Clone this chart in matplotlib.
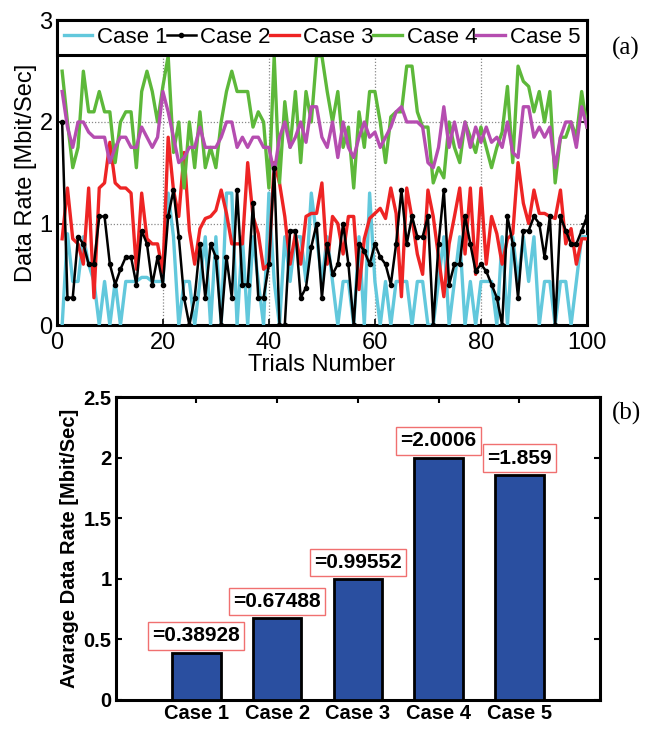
import numpy as np
import matplotlib
matplotlib.use("Agg")
import matplotlib.pyplot as plt

trials = list(range(1, 101))

case1 = [0.0, 0.9, 0.43, 0.43, 0.87, 0.6, 0.43, 0.0, 0.43, 0.0,
         0.43, 0.0, 0.43, 0.43, 0.43, 0.47, 0.47, 0.43, 0.43, 0.43,
         1.3, 0.87, 0.0, 0.43, 0.43, 0.0, 0.43, 0.87, 0.0, 0.87,
         0.0, 1.3, 1.3, 0.0, 0.87, 0.0, 0.87, 0.43, 0.0, 1.3,
         0.43, 0.0, 0.87, 0.43, 0.87, 0.87, 0.43, 1.3, 0.87, 0.43,
         0.87, 0.43, 0.0, 0.43, 0.43, 0.0, 0.87, 0.0, 1.3, 0.43,
         0.0, 0.43, 0.0, 0.43, 0.43, 0.43, 0.0, 0.43, 0.43, 0.0,
         0.0, 0.43, 0.87, 0.0, 0.43, 0.87, 0.0, 0.43, 0.0, 0.43,
         0.43, 0.43, 0.0, 0.87, 0.0, 0.87, 0.43, 0.87, 0.43, 0.87,
         0.0, 0.43, 0.43, 0.0, 0.43, 0.43, 0.0, 0.43, 0.87, 0.87]

case2 = [2.0, 0.27, 0.27, 0.87, 0.8, 0.6, 0.6, 1.07, 1.07, 0.6,
         0.4, 0.55, 0.67, 0.67, 0.4, 0.93, 0.8, 0.4, 0.67, 0.4,
         1.07, 1.33, 0.87, 0.27, 0.0, 0.27, 0.8, 0.27, 0.8, 0.67,
         0.0, 0.67, 0.27, 1.33, 0.4, 0.4, 1.2, 0.27, 0.27, 0.6,
         1.55, 0.0, 0.0, 0.93, 0.93, 0.27, 0.37, 0.77, 1.0, 0.27,
         0.8, 0.5, 0.6, 1.0, 0.6, 0.0, 0.8, 0.73, 0.6, 0.8,
         0.67, 0.6, 0.4, 0.8, 1.33, 0.8, 1.07, 0.87, 0.87, 1.07,
         0.0, 0.8, 1.33, 0.4, 0.6, 0.6, 1.07, 0.8, 0.53, 0.6,
         0.53, 0.4, 0.27, 0.0, 1.07, 0.8, 0.27, 0.93, 0.93, 1.07,
         1.0, 0.67, 1.07, 0.0, 1.07, 0.93, 0.8, 0.8, 0.93, 1.07]

case3 = [0.85, 1.35, 0.85, 0.8, 0.6, 1.35, 0.27, 1.35, 1.4, 1.8,
         1.4, 1.35, 1.35, 1.3, 0.55, 1.3, 0.85, 0.8, 0.8, 0.52,
         1.85, 1.33, 1.07, 1.7, 0.93, 0.6, 0.95, 1.05, 1.07, 1.13,
         1.33, 1.1, 0.8, 0.8, 0.8, 1.6, 1.07, 0.9, 0.55, 0.6,
         1.6, 1.4, 1.07, 0.6, 0.9, 0.6, 1.07, 1.1, 1.1, 1.4,
         0.6, 1.07, 1.0, 0.7, 1.07, 1.07, 0.35, 0.85, 1.05, 1.1,
         1.15, 1.05, 1.35, 1.1, 0.28, 1.35, 1.05, 0.7, 0.5, 1.33,
         1.07, 0.67, 0.28, 0.8, 1.07, 1.35, 0.7, 1.35, 0.5, 1.35,
         0.6, 1.07, 0.9, 0.6, 0.85, 0.9, 1.6, 1.2, 1.0, 1.33,
         1.1, 1.1, 1.07, 1.05, 1.33, 0.8, 0.95, 0.6, 0.85, 0.85]

case4 = [2.5, 2.0, 1.55, 1.75, 2.5, 2.1, 2.1, 2.3, 2.1, 2.1,
         1.6, 2.0, 2.1, 2.1, 1.55, 2.3, 2.5, 2.3, 2.0, 2.35,
         2.65, 1.7, 2.0, 1.35, 2.0, 1.55, 2.1, 1.55, 1.75, 1.55,
         2.0, 2.3, 2.5, 2.3, 2.3, 2.3, 1.95, 2.1, 2.0, 1.35,
         2.65, 1.4, 2.2, 1.75, 2.3, 1.6, 2.3, 2.0, 2.65, 2.65,
         2.3, 2.0, 2.3, 1.75, 1.95, 1.35, 2.1, 1.75, 2.3, 2.3,
         2.0, 1.6, 2.05, 2.1, 2.1, 2.55, 2.55, 2.1, 1.95, 1.95,
         1.4, 1.55, 1.45, 2.0, 1.75, 1.6, 2.0, 1.85, 1.7, 1.95,
         1.75, 1.55, 1.75, 1.9, 2.35, 1.6, 2.55, 2.4, 2.35, 2.1,
         2.3, 2.0, 2.3, 1.4, 1.85, 1.85, 2.0, 1.85, 2.3, 1.95]

case5 = [2.3, 1.95, 1.75, 2.0, 2.0, 1.9, 1.85, 1.85, 1.85, 1.6,
         1.75, 1.85, 1.85, 1.75, 1.75, 1.95, 1.85, 1.75, 1.85, 2.3,
         2.1, 1.85, 1.6, 1.65, 1.75, 1.75, 1.95, 1.75, 1.75, 1.75,
         1.85, 2.0, 2.0, 1.75, 1.85, 1.75, 1.85, 1.85, 1.75, 1.75,
         1.5, 1.85, 2.0, 1.75, 1.85, 2.0, 1.8, 2.15, 2.15, 1.85,
         1.75, 2.0, 1.65, 2.0, 1.75, 1.65, 1.85, 2.0, 1.85, 1.9,
         1.75, 1.85, 1.95, 2.1, 2.15, 2.0, 2.0, 2.0, 1.95, 1.6,
         1.55, 1.75, 2.15, 1.75, 2.0, 1.75, 2.0, 1.75, 1.95, 1.8,
         1.95, 1.8, 1.85, 1.75, 2.0, 1.7, 1.65, 2.15, 2.15, 1.85,
         1.95, 1.85, 1.95, 1.55, 1.85, 2.0, 2.0, 1.75, 2.15, 1.95]

series_names = ["Case 1", "Case 2", "Case 3", "Case 4", "Case 5"]
series_colors = ["#62c8dc", "#000000", "#ee2424", "#5db83a", "#b54db0"]

bar_labels = ["Case 1", "Case 2", "Case 3", "Case 4", "Case 5"]
bar_values = [0.38928, 0.67488, 0.99552, 2.0006, 1.859]
bar_texts = ["=0.38928", "=0.67488", "=0.99552", "=2.0006", "=1.859"]

SANS = ["Liberation Sans", "DejaVu Sans"]
NARROW = ["Liberation Sans Narrow", "Liberation Sans", "DejaVu Sans"]

fig = plt.figure(figsize=(6.61, 7.29), dpi=100)

# ---------- (a) line chart ----------
ax1 = fig.add_axes([0.086, 0.554, 0.802, 0.418])
all_series = [case1, case2, case3, case4, case5]
for name, col, ys in zip(series_names, series_colors, all_series):
    if name == "Case 2":
        ax1.plot(trials, ys, color=col, lw=1.8, marker="o", ms=3, label=name, zorder=4)
    else:
        ax1.plot(trials, ys, color=col, lw=2.4, label=name, zorder=3)

ax1.set_xlim(0, 100)
ax1.set_ylim(0, 3)
ax1.set_xticks([0, 20, 40, 60, 80, 100])
ax1.set_yticks([0, 1, 2, 3])
ax1.grid(True, color="#888888", linestyle=(0, (1, 1.5)), linewidth=0.9)
ax1.tick_params(direction="in", length=4, width=1.2, labelsize=17,
                top=True, right=True)
ax1.tick_params(axis="x", pad=5)
ax1.tick_params(axis="y", pad=3)
for lab in ax1.get_xticklabels() + ax1.get_yticklabels():
    lab.set_family(SANS)
for sp in ax1.spines.values():
    sp.set_linewidth(2.2)
ax1.set_xlabel("Trials Number", fontsize=17, family=SANS, labelpad=0)
ax1.set_ylabel("Data Rate [Mbit/Sec]", fontsize=17, family=SANS, labelpad=2)

leg = ax1.legend(loc="upper center", ncol=5, mode="expand",
                 bbox_to_anchor=(0, 0, 1, 1.0), borderaxespad=0,
                 prop={"family": SANS, "size": 16}, handlelength=1.3,
                 handletextpad=0.2, columnspacing=0.3, fancybox=False,
                 framealpha=1, borderpad=0.3)
leg.get_frame().set_edgecolor("black")
leg.get_frame().set_linewidth(2.2)
leg.set_zorder(10)

fig.text(0.925, 0.934, "(a)", fontsize=18, family=["Liberation Serif", "DejaVu Serif"],
         ha="left", va="center")

# ---------- (b) bar chart ----------
ax2 = fig.add_axes([0.175, 0.040, 0.733, 0.415])
xpos = np.arange(1, len(bar_values) + 1)
ax2.bar(xpos, bar_values, width=0.6, color="#2a4fa0", edgecolor="black",
        linewidth=2.0, zorder=3)
ax2.set_xlim(0, 6)
ax2.set_ylim(0, 2.5)
ax2.set_xticks(xpos)
ax2.set_xticklabels(bar_labels)
ax2.set_yticks([0, 0.5, 1, 1.5, 2, 2.5])
ax2.set_yticklabels(["0", "0.5", "1", "1.5", "2", "2.5"])
ax2.tick_params(direction="in", length=4, width=1.5, labelsize=14.5, pad=3,
                top=True, right=True)
for lab in ax2.get_xticklabels() + ax2.get_yticklabels():
    lab.set_family(NARROW)
    lab.set_fontweight("bold")
for sp in ax2.spines.values():
    sp.set_linewidth(2.2)
ax2.set_ylabel("Avarage Data Rate [Mbit/Sec]", fontsize=14.5, fontweight="bold",
               family=SANS, labelpad=3)

for x, v, t in zip(xpos, bar_values, bar_texts):
    ax2.text(x, v + 0.06, t, ha="center", va="bottom", fontsize=15,
             fontweight="bold", family=NARROW, zorder=5,
             bbox=dict(boxstyle="square,pad=0.2", facecolor="white",
                       edgecolor="#f07070", linewidth=1.0))

fig.text(0.925, 0.433, "(b)", fontsize=18, family=["Liberation Serif", "DejaVu Serif"],
         ha="left", va="center")

fig.savefig("out.png", dpi=100)
